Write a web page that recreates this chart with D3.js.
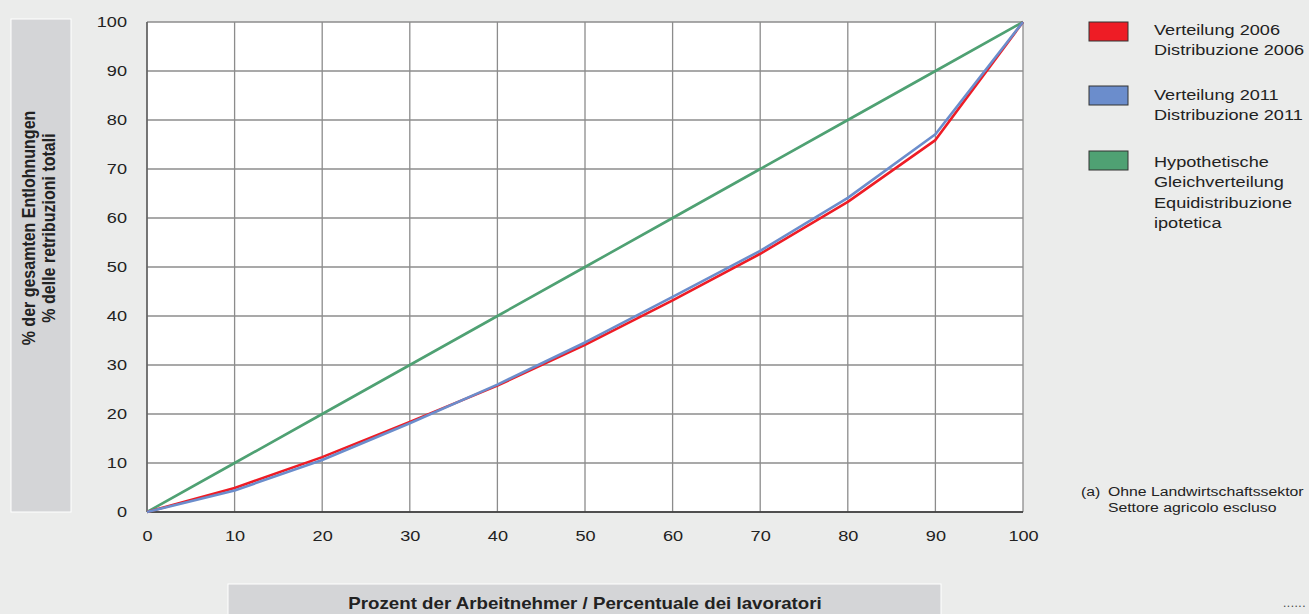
<!DOCTYPE html>
<html>
<head>
<meta charset="utf-8">
<script src="https://cdn.jsdelivr.net/npm/d3@7"></script>
<style>
  body { margin: 0; background: #ebeceb; }
  svg { display: block; font-family: "Liberation Sans", Arial, sans-serif; }
  .grid line { stroke: #8c8c8c; stroke-width: 1.3; }
  .tick text { font-size: 15.5px; fill: #222; }
</style>
</head>
<body>
<svg width="1309" height="614"></svg>
<script>
const workers = [0, 10, 20, 30, 40, 50, 60, 70, 80, 90, 100]
const dist2006 = [0, 4.9, 11.2, 18.4, 25.8, 34.1, 43.2, 52.7, 63.3, 75.9, 100]
const dist2011 = [0, 4.4, 10.6, 18.1, 26.0, 34.6, 43.9, 53.3, 64.1, 77.1, 100]
const equal = [0, 10, 20, 30, 40, 50, 60, 70, 80, 90, 100]
const yTicks = [0, 10, 20, 30, 40, 50, 60, 70, 80, 90, 100]

const legendItems = [
  { color: "#ee1c25", lines: ["Verteilung 2006", "Distribuzione 2006"] },
  { color: "#6b8dcc", lines: ["Verteilung 2011", "Distribuzione 2011"] },
  { color: "#4fa173", lines: ["Hypothetische", "Gleichverteilung", "Equidistribuzione", "ipotetica"] }
]

// the original text is a bit wider than Arial, stretch horizontally around an anchor
const SX = 1.17
const stretch = (ax, ay) => `translate(${ax},${ay}) scale(${SX},1) translate(${-ax},${-ay})`

const svg = d3.select("svg")
const x = d3.scaleLinear().domain([0, 100]).range([147, 1023])
const y = d3.scaleLinear().domain([0, 100]).range([512, 22])

// grey title boxes
svg.append("rect")
  .attr("x", 11).attr("y", 19).attr("width", 60).attr("height", 493)
  .attr("fill", "#d4d5d7").attr("stroke", "#fff").attr("stroke-width", 1)
svg.append("rect")
  .attr("x", 228).attr("y", 584).attr("width", 713).attr("height", 34)
  .attr("fill", "#d4d5d7").attr("stroke", "#fff").attr("stroke-width", 1)

// plot area
svg.append("rect")
  .attr("x", x(0)).attr("y", y(100))
  .attr("width", x(100) - x(0)).attr("height", y(0) - y(100))
  .attr("fill", "#fff")

// grid
const grid = svg.append("g").attr("class", "grid")
grid.selectAll(".h").data(yTicks).enter().append("line")
  .attr("x1", x(0)).attr("x2", x(100))
  .attr("y1", d => y(d)).attr("y2", d => y(d))
grid.selectAll(".v").data(workers).enter().append("line")
  .attr("x1", d => x(d)).attr("x2", d => x(d))
  .attr("y1", y(0)).attr("y2", y(100))

// axes (labels only)
const yAxis = svg.append("g")
  .attr("transform", `translate(${x(0)},0)`)
  .call(d3.axisLeft(y).tickValues(yTicks).tickSize(0).tickPadding(20))
yAxis.select(".domain").remove()
yAxis.selectAll("text").attr("transform", stretch(-20, 0))
const xAxis = svg.append("g")
  .attr("transform", `translate(0,${y(0)})`)
  .call(d3.axisBottom(x).tickValues(workers).tickSize(0).tickPadding(18))
xAxis.select(".domain").remove()
xAxis.selectAll("text").attr("transform", stretch(0, 0))

// frame: left and bottom darker
svg.append("line").attr("x1", x(0)).attr("x2", x(0)).attr("y1", y(0)).attr("y2", y(100))
  .attr("stroke", "#555").attr("stroke-width", 1.3)
svg.append("line").attr("x1", x(0)).attr("x2", x(100)).attr("y1", y(0)).attr("y2", y(0))
  .attr("stroke", "#333").attr("stroke-width", 1.3)

// lines
const line = d3.line().x((d, i) => x(workers[i])).y(d => y(d))
const series = [
  { values: equal, color: "#4fa173" },
  { values: dist2006, color: "#ee1c25" },
  { values: dist2011, color: "#6b8dcc" }
]
svg.selectAll(".series").data(series).enter().append("path")
  .attr("d", d => line(d.values))
  .attr("fill", "none")
  .attr("stroke", d => d.color)
  .attr("stroke-width", 2.6)
  .attr("stroke-linejoin", "round")

// axis titles
const yTitle = svg.append("text")
  .attr("transform", `translate(41,228) scale(${SX},1) rotate(-90)`)
  .attr("text-anchor", "middle")
  .attr("font-weight", "bold").attr("font-size", 16).attr("fill", "#222")
yTitle.append("tspan").attr("x", 0).attr("dy", "-0.3em").text("% der gesamten Entlohnungen")
yTitle.append("tspan").attr("x", 0).attr("dy", "1.05em").text("% delle retribuzioni totali")

svg.append("text")
  .attr("x", 585).attr("y", 609)
  .attr("transform", stretch(585, 609))
  .attr("text-anchor", "middle")
  .attr("font-weight", "bold").attr("font-size", 16).attr("fill", "#222")
  .text("Prozent der Arbeitnehmer / Percentuale dei lavoratori")

// legend
const legendTops = [22, 86, 151]
const legendText = [13, 14, 16]
const legend = svg.selectAll(".legend").data(legendItems).enter().append("g")
  .attr("transform", (d, i) => `translate(1089,${legendTops[i]})`)
legend.append("rect")
  .attr("width", 39).attr("height", 19)
  .attr("fill", d => d.color)
  .attr("stroke", "#333").attr("stroke-width", 1)
legend.append("text")
  .attr("x", 65).attr("y", (d, i) => legendText[i])
  .attr("transform", (d, i) => stretch(65, legendText[i]))
  .attr("font-size", 15.5).attr("fill", "#222")
  .selectAll("tspan").data(d => d.lines).enter().append("tspan")
  .attr("x", 65).attr("dy", (d, i) => i === 0 ? 0 : 20.5)
  .text(d => d)

// footnote
const note = svg.append("text").attr("font-size", 13.5).attr("fill", "#222")
  .attr("transform", stretch(1081, 496))
note.append("tspan").attr("x", 1081).attr("y", 496).text("(a)")
note.append("tspan").attr("x", 1104).attr("y", 496).text("Ohne Landwirtschaftssektor")
note.append("tspan").attr("x", 1104).attr("y", 512).text("Settore agricolo escluso")

svg.append("text").attr("x", 1283).attr("y", 607)
  .attr("font-size", 12).attr("fill", "#444").attr("letter-spacing", 0.5).text("......")
</script>
</body>
</html>
